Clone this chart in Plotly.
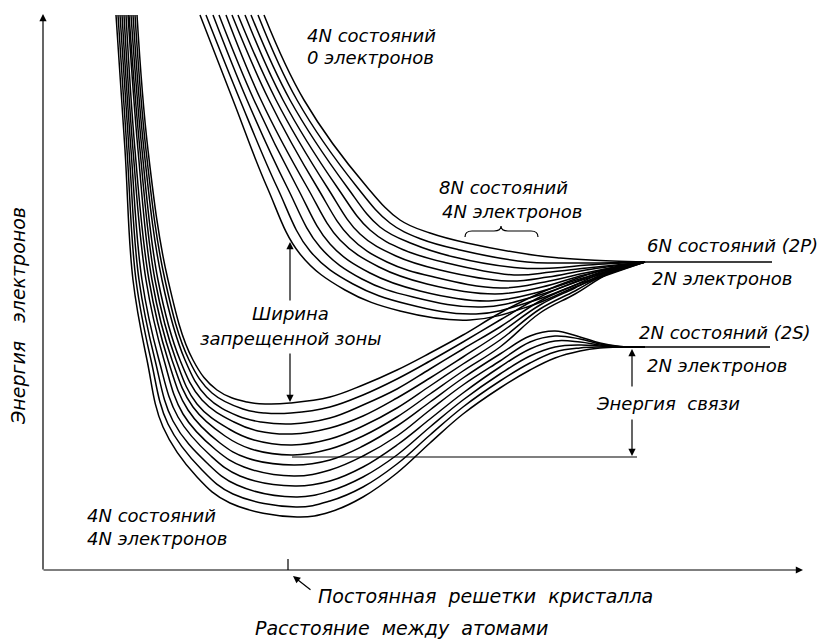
import plotly.graph_objects as go

# distance axis ~ screen units, energy axis = depth below the vacuum level
LATTICE_CONSTANT = 290
LEVEL_2P = 262
LEVEL_2S = 347
BINDING_LEVEL = 457
LEVEL_2P_R = [645, 772]
LEVEL_2S_R = [617, 770]

# lower band: 4N states, upper six curves go to 2P, lower six to 2S
LOWER_R = [
    [137, 148, 168, 193, 217, 247, 268, 290, 330, 363, 397, 430, 463, 500, 540, 575, 610, 645],
    [135, 146, 165, 189, 212, 243, 265, 291, 330, 363, 397, 430, 463, 500, 540, 575, 610, 645],
    [133, 144, 162, 185, 207, 238, 261, 291, 330, 363, 397, 430, 463, 500, 540, 575, 610, 645],
    [131, 142, 158, 180, 202, 234, 258, 292, 330, 363, 397, 430, 463, 500, 540, 575, 610, 645],
    [129, 140, 155, 176, 197, 229, 254, 292, 330, 363, 397, 430, 463, 500, 540, 575, 610, 645],
    [128, 138, 152, 172, 193, 225, 251, 293, 330, 363, 397, 430, 463, 500, 540, 575, 610, 645],
    [126, 135, 149, 168, 188, 220, 247, 294, 330, 363, 397, 430, 463, 500, 530, 555, 580, 600, 620, 645],
    [124, 133, 146, 164, 183, 216, 244, 294, 330, 363, 397, 430, 463, 500, 530, 555, 580, 600, 620, 645],
    [122, 131, 142, 159, 178, 211, 240, 295, 330, 363, 397, 430, 463, 500, 530, 555, 580, 600, 620, 645],
    [120, 129, 139, 155, 173, 207, 237, 296, 330, 363, 397, 430, 463, 500, 530, 555, 580, 600, 620, 645],
    [118, 127, 136, 151, 168, 202, 233, 296, 330, 363, 397, 430, 463, 500, 530, 555, 580, 600, 620, 645],
    [116, 125, 133, 147, 163, 197, 230, 297, 330, 363, 397, 430, 463, 500, 530, 555, 580, 600, 620, 645],
]
LOWER_DEPTH = [
    [15, 150, 280, 360, 390, 402, 404, 403, 397, 385, 370, 353, 335, 313, 293, 279, 268, 262],
    [15, 150, 280, 360, 393, 409, 413, 413, 407, 395, 379, 361, 342, 320, 297, 282, 269, 262],
    [15, 150, 280, 360, 397, 416, 422, 424, 418, 405, 389, 369, 349, 327, 301, 285, 270, 262],
    [15, 150, 280, 360, 400, 422, 431, 434, 428, 416, 398, 378, 357, 333, 305, 288, 271, 262],
    [15, 150, 280, 360, 404, 429, 440, 445, 439, 426, 408, 386, 364, 340, 309, 291, 272, 262],
    [15, 150, 280, 360, 407, 436, 449, 455, 449, 436, 417, 394, 371, 347, 313, 294, 273, 262],
    [15, 150, 280, 360, 410, 443, 458, 465, 460, 446, 426, 402, 378, 354, 336, 331, 337, 343, 346.5, 347],
    [15, 150, 280, 360, 414, 450, 467, 476, 470, 456, 436, 410, 385, 361, 342, 336, 339, 344, 346.5, 347],
    [15, 150, 280, 360, 417, 456, 476, 486, 481, 467, 445, 419, 393, 367, 349, 341, 342, 345, 347, 347],
    [15, 150, 280, 360, 421, 463, 485, 497, 491, 477, 455, 427, 400, 374, 356, 347, 345, 346, 347, 347],
    [15, 150, 280, 360, 424, 470, 494, 507, 501, 487, 464, 435, 407, 381, 363, 352, 348, 347, 347, 347],
    [15, 150, 280, 360, 427, 477, 503, 517, 512, 497, 473, 443, 414, 388, 370, 358, 351, 348, 347, 347],
]

# upper band: 4N states, all go to 2P
UPPER_R = [
    [264, 304, 367, 400, 430, 467, 533, 560, 590, 645],
    [258, 297, 357, 390, 421, 460, 527, 557, 589, 645],
    [251, 290, 347, 380, 413, 454, 520, 554, 588, 645],
    [245, 283, 337, 370, 404, 447, 514, 551, 587, 645],
    [238, 276, 327, 360, 396, 440, 508, 548, 586, 645],
    [232, 269, 317, 350, 387, 434, 501, 545, 585, 645],
    [226, 261, 307, 340, 379, 427, 495, 542, 584, 645],
    [219, 254, 297, 330, 370, 420, 489, 539, 583, 645],
    [213, 247, 287, 320, 362, 413, 482, 536, 582, 645],
    [206, 240, 277, 310, 353, 407, 476, 533, 581, 645],
    [200, 233, 267, 300, 345, 400, 470, 530, 580, 645],
]
UPPER_DEPTH = [
    [15, 100, 187, 220, 233, 243, 255, 258, 260, 262],
    [15, 100, 187, 223, 239, 250, 262, 263, 263, 262],
    [15, 100, 187, 227, 244, 257, 268, 268, 265, 262],
    [15, 100, 187, 230, 250, 263, 275, 272, 268, 262],
    [15, 100, 187, 234, 256, 270, 281, 277, 270, 262],
    [15, 100, 187, 237, 262, 277, 288, 282, 273, 262],
    [15, 100, 187, 240, 267, 284, 294, 287, 275, 262],
    [15, 100, 187, 244, 273, 291, 301, 292, 278, 262],
    [15, 100, 187, 247, 279, 297, 307, 296, 280, 262],
    [15, 100, 187, 251, 284, 304, 314, 301, 283, 262],
    [15, 100, 187, 254, 290, 311, 320, 306, 285, 262],
]

FUENTE = dict(family="DejaVu Sans", size=18, color="black", style="italic")
FUENTE_EJE = dict(FUENTE, size=19)
TINTA = "black"


def linea(x, y, ancho=1.5, spline=True):
    return go.Scatter(
        x=x,
        y=y,
        mode="lines",
        line=dict(color=TINTA, width=ancho, shape="spline" if spline else "linear", smoothing=1.1),
        hoverinfo="skip",
        showlegend=False,
    )


def texto(fig, t, x, y, anchor="left", fuente=FUENTE, **kw):
    fig.add_annotation(
        x=x, y=y, text=t, showarrow=False, xanchor=anchor, yanchor="middle",
        font=fuente, **kw
    )


def flecha(fig, x, y, ax, ay):
    fig.add_annotation(
        x=x, y=y, ax=ax, ay=ay, xref="x", yref="y", axref="x", ayref="y",
        text="", showarrow=True, arrowhead=2, arrowsize=1.2, arrowwidth=1.2,
        arrowcolor=TINTA,
    )


fig = go.Figure()

for r, d in zip(LOWER_R, LOWER_DEPTH):
    fig.add_trace(linea(r, d))
for r, d in zip(UPPER_R, UPPER_DEPTH):
    fig.add_trace(linea(r, d))

fig.add_trace(linea(LEVEL_2P_R, [LEVEL_2P] * 2, spline=False))
fig.add_trace(linea(LEVEL_2S_R, [LEVEL_2S] * 2, spline=False))
fig.add_trace(linea([LATTICE_CONSTANT + 2, 637], [BINDING_LEVEL] * 2, ancho=1.2, spline=False))

# ejes dibujados a mano
flecha(fig, 43, 14, 43, 571)
flecha(fig, 803, 570, 42, 570)
fig.add_shape(type="line", x0=LATTICE_CONSTANT - 2, x1=LATTICE_CONSTANT - 2, y0=559, y1=570,
              line=dict(color=TINTA, width=1.2))
flecha(fig, LATTICE_CONSTANT + 3, 576, 312, 591)

# ancho de la zona prohibida
flecha(fig, LATTICE_CONSTANT, 242, LATTICE_CONSTANT, 302)
flecha(fig, LATTICE_CONSTANT, 402, LATTICE_CONSTANT, 352)
texto(fig, "Ширина", LATTICE_CONSTANT, 313, anchor="center")
texto(fig, "запрещенной зоны", LATTICE_CONSTANT, 338, anchor="center")

# energía de enlace
flecha(fig, 632, LEVEL_2S + 2, 632, 388)
flecha(fig, 632, BINDING_LEVEL - 1, 632, 418)
texto(fig, "Энергия  связи", 668, 403, anchor="center", bgcolor="white")

# llave sobre la zona de 8N estados
fig.add_shape(
    type="path",
    path="M 465,237 Q 465,231 472,231 L 494,231 Q 501,231 501,226 "
         "Q 501,231 508,231 L 531,231 Q 538,231 538,237",
    line=dict(color=TINTA, width=1.2),
)

texto(fig, "4N состояний", 305, 35)
texto(fig, "0 электронов", 305, 57)
texto(fig, "8N состояний", 437, 187)
texto(fig, "4N электронов", 440, 211)
texto(fig, "6N состояний (2P)", 645, 245)
texto(fig, "2N электронов", 650, 278)
texto(fig, "2N состояний (2S)", 637, 332)
texto(fig, "2N электронов", 645, 365)
texto(fig, "4N состояний", 85, 515)
texto(fig, "4N электронов", 85, 538)
texto(fig, "Постоянная  решетки  кристалла", 316, 596, fuente=FUENTE_EJE)
texto(fig, "Расстояние  между  атомами", 401, 628, anchor="center", fuente=FUENTE_EJE)
fig.add_annotation(
    x=18, y=316, text="Энергия   электронов", showarrow=False, textangle=-90,
    font=FUENTE_EJE,
)

fig.update_xaxes(range=[0, 826], visible=False, fixedrange=True)
fig.update_yaxes(range=[639, 0], visible=False, fixedrange=True)
fig.update_layout(
    width=826,
    height=639,
    margin=dict(l=0, r=0, t=0, b=0),
    paper_bgcolor="white",
    plot_bgcolor="white",
    showlegend=False,
)

fig.write_html(
    "out.html",
    config={"displayModeBar": False},
    post_script="document.body.style.margin='0';document.body.style.overflow='hidden';",
)
